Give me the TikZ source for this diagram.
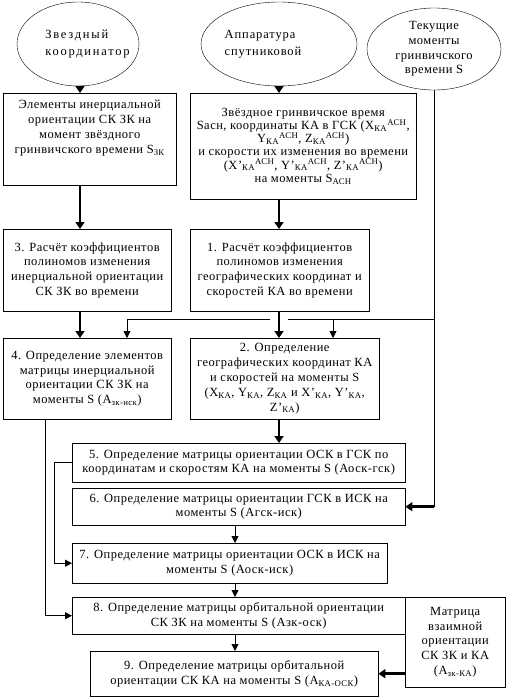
\documentclass[tikz,border=0pt]{standalone}
\usepackage{fontspec}
\setmainfont{Liberation Serif}[LetterSpace=4]
\usetikzlibrary{shapes.geometric,arrows.meta}
\tikzset{
  block/.style={draw, rectangle, anchor=north west, align=center, inner sep=2pt,
    font=\fontsize{12.5}{14.8}\selectfont},
  source/.style={draw, ellipse, inner sep=0pt, font=\fontsize{12.5}{14.8}\selectfont},
  thin/.style={-{Triangle[width=7pt,length=7pt]}, line width=0.8pt},
  bold/.style={-{Triangle[width=9pt,length=7pt]}, line width=2.6pt},
}
\begin{document}
\begin{tikzpicture}[x=1pt,y=-1pt]
      \useasboundingbox (0,0) rectangle (508,698);
      % sources
      \node[source, minimum width=122, minimum height=84,
        label={[align=left, xshift=9.5pt, font=\fontsize{12.5}{16.5}\selectfont\addfontfeature{LetterSpace=14}]center:Звездный\\координатор}]
        (zk) at (78,44) {};
      \node[source, minimum width=156, minimum height=84,
        label={[align=left, xshift=-16pt, font=\fontsize{12.5}{16.5}\selectfont\addfontfeature{LetterSpace=7}]center:Аппаратура\\спутниковой}]
        (asn) at (279,44) {};
      \node[source, minimum width=134, minimum height=82, align=center]
        (tek) at (434,49) {Текущие\\моменты\\гринвичского\\времени S};
      % blocks
      \node[block, minimum width=173, minimum height=92] (elem) at (3,93)
        {Элементы инерциальной\\ориентации СК ЗК на\\момент звёздного\\гринвичского времени S\textsubscript{ЗК}\\[10pt]\mbox{}};
      \node[block, minimum width=226, minimum height=106, font=\fontsize{12.5}{13.2}\selectfont] (sacn) at (190,93)
        {Звёздное гринвичское время\\Sасн, координаты КА в ГСК (X\textsubscript{КА}\textsuperscript{АСН},\\
         Y\textsubscript{КА}\textsuperscript{АСН}, Z\textsubscript{КА}\textsuperscript{АСН})\\
         и скорости их изменения во времени\\
         (X'\textsubscript{КА}\textsuperscript{АСН}, Y'\textsubscript{КА}\textsuperscript{АСН}, Z'\textsubscript{КА}\textsuperscript{АСН})\\
         на моменты S\textsubscript{АСН}};
      \node[block, minimum width=168, minimum height=82] (b3) at (3,229)
        {3. Расчёт коэффициентов\\полиномов изменения\\инерциальной ориентации\\СК ЗК во времени};
      \node[block, minimum width=179, minimum height=82] (b1) at (190,229)
        {1. Расчёт коэффициентов\\полиномов изменения\\географических координат и\\скоростей КА во времени};
      \node[block, minimum width=168, minimum height=81] (b4) at (3,338)
        {4. Определение элементов\\матрицы инерциальной\\ориентации СК ЗК на\\моменты S (A\textsubscript{зк-иск})};
      \node[block, minimum width=189, minimum height=81] (b2) at (190,338)
        {2. Определение\\географических координат КА\\и скоростей на моменты S\\
         (X\textsubscript{КА}, Y\textsubscript{КА}, Z\textsubscript{КА} и X'\textsubscript{КА}, Y'\textsubscript{КА},\\Z'\textsubscript{КА})};
      \node[block, minimum width=333, minimum height=39] (b5) at (72,443)
        {5. Определение матрицы ориентации ОСК в ГСК по\\координатам и скоростям КА на моменты S (Аоск-гск)};
      \node[block, minimum width=333, minimum height=37] (b6) at (72,488)
        {6. Определение матрицы ориентации ГСК в ИСК на\\моменты S (Агск-иск)};
      \node[block, minimum width=315, minimum height=40] (b7) at (72,543)
        {7. Определение матрицы ориентации ОСК в ИСК на\\моменты S (Аоск-иск)};
      \node[block, minimum width=333, minimum height=37] (b8) at (72,597)
        {8. Определение матрицы орбитальной ориентации\\СК ЗК на моменты S (Азк-оск)};
      \node[block, minimum width=288, minimum height=45] (b9) at (90,651)
        {9. Определение матрицы орбитальной\\ориентации СК КА на моменты S (A\textsubscript{КА-ОСК})};
      \node[block, minimum width=100, minimum height=90] (mvz) at (405,597)
        {Матрица\\взаимной\\ориентации\\СК ЗК и КА\\(A\textsubscript{зк-КА})};
      % helper points
      \coordinate (lft) at (80,0);
      \coordinate (s4) at (127,319);
      \coordinate (gl) at (270,319);
      \coordinate (gr) at (288,319);
      \coordinate (s2) at (333,319);
      \coordinate (c48) at (45,0);
      \coordinate (c67) at (235,0);
      % connectors
      \draw[bold] (lft |- zk.south) -- (lft |- elem.north);
      \draw[bold] (lft |- elem.south) -- (lft |- b3.north);
      \draw[bold] (lft |- b3.south) -- (lft |- b4.north);
      \draw[bold] (asn.south) -- (asn.south |- sacn.north);
      \draw[bold] (asn.south |- sacn.south) -- (asn.south |- b1.north);
      \draw[bold] (asn.south |- b1.south) -- (asn.south |- b2.north);
      \draw[bold] (asn.south |- b2.south) -- (asn.south |- b5.north);
      \draw[line width=0.8pt] (tek.south |- s4) -- (gr);
      \draw[thin] (gl) -- (s4) -- (s4 |- b4.north);
      \draw[thin] (s2) -- (s2 |- b2.north);
      \draw[line width=0.8pt] (tek.south) -- (tek.south |- b6.east);
      \draw[bold] ([xshift=0.4pt]tek.south |- b6.east) -- (b6.east);
      \draw[thin] (b4.south -| c48) |- (b8.west);
      \draw[thin] (b5.west) -- ++(-18,0) |- (b7.west);
      \draw[thin] (b6.south -| c67) -- (c67 |- b7.north);
      \draw[thin] (b7.south -| c67) -- (c67 |- b8.north);
      \draw[thin] (b8.south -| c67) -- (c67 |- b9.north);
      \draw[bold] (mvz.west |- b9.east) -- (b9.east);
    \end{tikzpicture}
\end{document}
